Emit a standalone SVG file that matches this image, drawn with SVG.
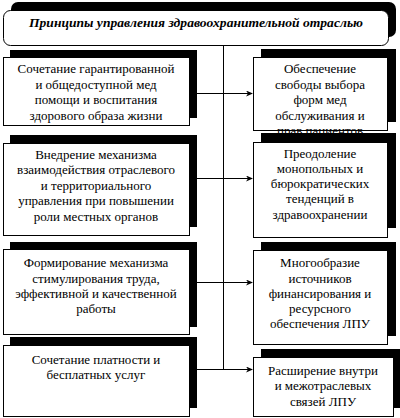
<svg xmlns="http://www.w3.org/2000/svg" width="400" height="418" viewBox="0 0 400 418">
<defs>
<style>
.sh{fill:#000}
.bx{fill:#fff;stroke:#000;stroke-width:1}
.t{font-size:13px;fill:#000;text-anchor:middle}
.ti{font-size:13px;font-weight:bold;font-style:italic;fill:#000;text-anchor:middle}
.ln{stroke:#000;stroke-width:1;fill:none}
</style>
<marker id="ar" markerWidth="7" markerHeight="6" refX="6" refY="3" orient="auto" markerUnits="userSpaceOnUse">
<path d="M0,0 L7,3 L0,6 L2,3 z" fill="#000"/>
</marker>
</defs>
<rect width="400" height="418" fill="#fff"/>
<g id="connectors">
<line class="ln" x1="223.5" y1="45" x2="223.5" y2="369.5"/>
<line class="ln" x1="189" y1="93.5" x2="252" y2="93.5" marker-end="url(#ar)"/>
<line class="ln" x1="189" y1="178.5" x2="252" y2="178.5" marker-end="url(#ar)"/>
<line class="ln" x1="189" y1="282.5" x2="252" y2="282.5" marker-end="url(#ar)"/>
<line class="ln" x1="189" y1="369.5" x2="252" y2="369.5" marker-end="url(#ar)"/>
</g>
<g font-family="Liberation Serif, serif">
<g id="title">
<rect class="sh" x="11" y="2" width="385" height="35" rx="7"/>
<rect class="bx" x="3.5" y="10.5" width="385" height="35" rx="7"/>
<text class="ti" x="196" y="27" textLength="334" lengthAdjust="spacingAndGlyphs">Принципы управления здравоохранительной отраслью</text>
</g>
<g id="left1">
<rect class="sh" x="10" y="50" width="187" height="68"/>
<rect class="bx" x="3.5" y="57.5" width="186" height="68"/>
<text class="t" x="96" y="73">Сочетание гарантированной</text>
<text class="t" x="96" y="88.5">и общедоступной мед</text>
<text class="t" x="96" y="104">помощи и воспитания</text>
<text class="t" x="96" y="120">здорового образа жизни</text>
</g>
<g id="right1">
<rect class="sh" x="261" y="49" width="135" height="73"/>
<rect class="bx" x="253.5" y="57.5" width="134" height="73"/>
<text class="t" x="320" y="73">Обеспечение</text>
<text class="t" x="320" y="88.5">свободы выбора</text>
<text class="t" x="320" y="104">форм мед</text>
<text class="t" x="320" y="119.5">обслуживания и</text>
<text class="t" x="320" y="135">прав пациентов</text>
</g>
<g id="left2">
<rect class="sh" x="10" y="135" width="187" height="92"/>
<rect class="bx" x="3.5" y="143.5" width="186" height="92"/>
<text class="t" x="96" y="158.5">Внедрение механизма</text>
<text class="t" x="96" y="174">взаимодействия отраслевого</text>
<text class="t" x="96" y="189.5">и территориального</text>
<text class="t" x="96" y="205">управления при повышении</text>
<text class="t" x="96" y="220.5">роли местных органов</text>
</g>
<g id="right2">
<rect class="sh" x="261" y="133" width="135" height="95"/>
<rect class="bx" x="253.5" y="142.5" width="134" height="95"/>
<text class="t" x="320" y="157.5">Преодоление</text>
<text class="t" x="320" y="172.5">монопольных и</text>
<text class="t" x="320" y="188">бюрократических</text>
<text class="t" x="320" y="203">тенденций в</text>
<text class="t" x="320" y="218.5">здравоохранении</text>
</g>
<g id="left3">
<rect class="sh" x="10" y="242" width="187" height="85"/>
<rect class="bx" x="3.5" y="249.5" width="186" height="85"/>
<text class="t" x="96" y="267">Формирование механизма</text>
<text class="t" x="96" y="282.5">стимулирования труда,</text>
<text class="t" x="96" y="297.5">эффективной и качественной</text>
<text class="t" x="96" y="313">работы</text>
</g>
<g id="right3">
<rect class="sh" x="261" y="242" width="135" height="94"/>
<rect class="bx" x="253.5" y="250.5" width="134" height="94"/>
<text class="t" x="320" y="267">Многообразие</text>
<text class="t" x="320" y="282.5">источников</text>
<text class="t" x="320" y="297.5">финансирования и</text>
<text class="t" x="320" y="313">ресурсного</text>
<text class="t" x="320" y="328">обеспечения ЛПУ</text>
</g>
<g id="left4">
<rect class="sh" x="10" y="337" width="187" height="71"/>
<rect class="bx" x="3.5" y="345.5" width="186" height="71"/>
<text class="t" x="96" y="363.5">Сочетание платности и</text>
<text class="t" x="96" y="378.5">бесплатных услуг</text>
</g>
<g id="right4">
<rect class="sh" x="261" y="349" width="139" height="59"/>
<rect class="bx" x="253.5" y="357.5" width="140" height="59"/>
<text class="t" x="323" y="375">Расширение внутри</text>
<text class="t" x="323" y="390">и межотраслевых</text>
<text class="t" x="323" y="405.5">связей ЛПУ</text>
</g>
</g>
</svg>
